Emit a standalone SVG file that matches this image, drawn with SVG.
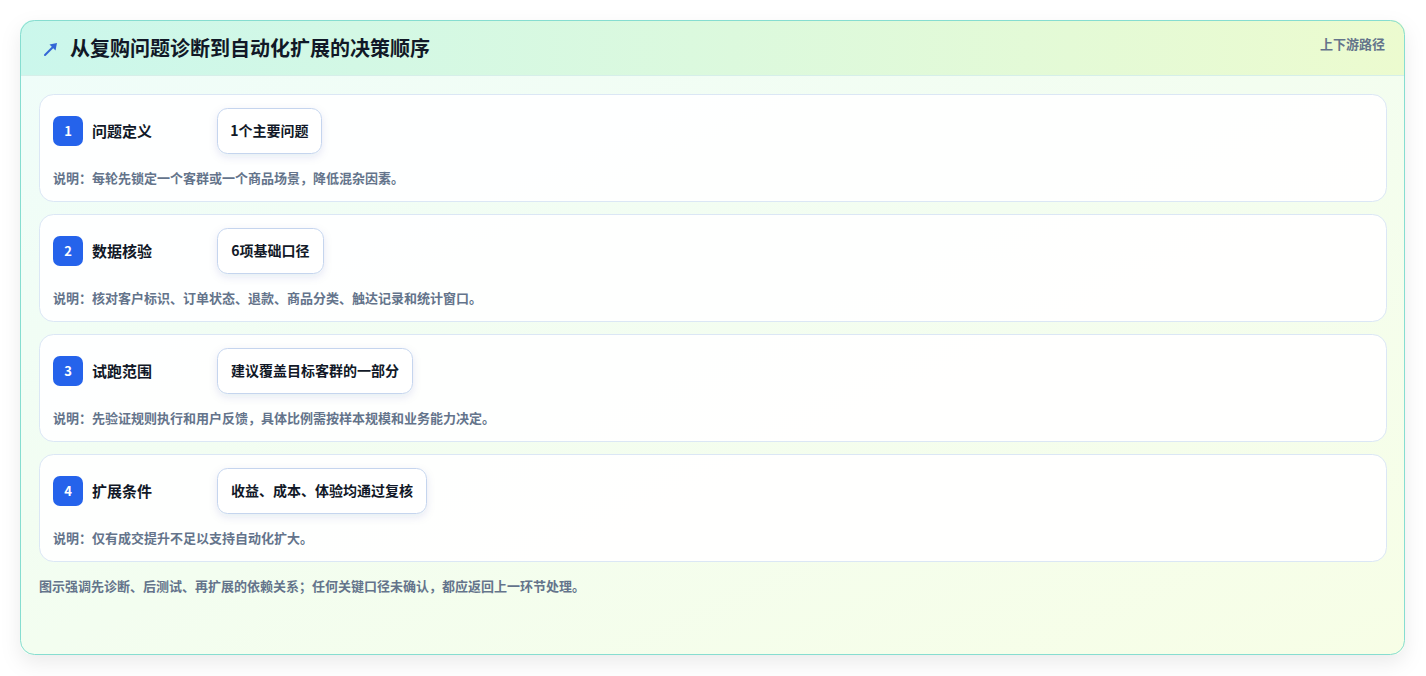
<svg xmlns="http://www.w3.org/2000/svg" width="1426" height="676" viewBox="0 0 1426 676">
<defs>
<linearGradient id="hdr" x1="0" y1="0" x2="1" y2="0">
<stop offset="0" stop-color="#cbf7ec"/>
<stop offset="1" stop-color="#ecfbcf"/>
</linearGradient>
<linearGradient id="body" x1="0" y1="0" x2="1" y2="1">
<stop offset="0" stop-color="#effdfa"/>
<stop offset="1" stop-color="#f7fee6"/>
</linearGradient>
<filter id="sh" x="-5%" y="-5%" width="110%" height="115%">
<feDropShadow dx="0" dy="8" stdDeviation="10" flood-color="#0f172a" flood-opacity="0.08"/>
</filter>
<filter id="psh" x="-20%" y="-30%" width="140%" height="170%">
<feDropShadow dx="0" dy="3" stdDeviation="4" flood-color="#1e3a8a" flood-opacity="0.10"/>
</filter>
<clipPath id="cardclip"><rect x="20" y="20" width="1385" height="635" rx="14"/></clipPath>
</defs>
<style>
text{font-family:"Noto Sans CJK SC","Noto Sans",sans-serif;font-weight:700}
.title{font-size:20px;fill:#111827}
.tag{font-size:13px;fill:#64748b;font-weight:600}
.row{fill:#ffffff;fill-opacity:0.92;stroke:#dbe7f5;stroke-width:1}
.badge{fill:#2563eb}
.num{font-size:13px;fill:#ffffff;text-anchor:middle}
.lbl{font-size:15px;fill:#111827}
.pill{fill:#ffffff;stroke:#c5d5ee;stroke-width:1}
.ptxt{font-size:14px;fill:#111827;text-anchor:middle}
.desc{font-size:13px;fill:#64748b}
</style>
<rect width="1426" height="676" fill="#ffffff"/>
<g id="card">
<rect x="20" y="20" width="1385" height="635" rx="14" fill="url(#body)" filter="url(#sh)"/>
<g clip-path="url(#cardclip)">
<rect x="20" y="20" width="1385" height="55" fill="url(#hdr)"/>
<line x1="20" y1="75.5" x2="1405" y2="75.5" stroke="#d6efe9" stroke-width="1"/>
</g>
<rect x="20.5" y="20.5" width="1384" height="634" rx="14" fill="none" stroke="#86ddd0" stroke-width="1"/>
</g>
<g id="header">
<line x1="45" y1="55" x2="53" y2="47" stroke="#3366d6" stroke-width="2" stroke-linecap="round"/>
<path d="M57 43 L55.5 50.5 L49.5 44.5 Z" fill="#3366d6"/>
<text class="title" x="70" y="56">从复购问题诊断到自动化扩展的决策顺序</text>
<text class="tag" x="1385" y="48.5" text-anchor="end">上下游路径</text>
</g>
<g id="step1">
<rect class="row" x="39.5" y="94.5" width="1347" height="107" rx="14"/>
<rect class="badge" x="53" y="116" width="30" height="30" rx="7"/>
<text class="num" x="68" y="135.5">1</text>
<text class="lbl" x="92" y="136.5">问题定义</text>
<rect class="pill" x="217.5" y="108.5" width="104" height="45" rx="10" filter="url(#psh)"/>
<text class="ptxt" x="269.5" y="136">1个主要问题</text>
<text class="desc" x="53" y="183">说明：每轮先锁定一个客群或一个商品场景，降低混杂因素。</text>
</g>
<g id="step2">
<rect class="row" x="39.5" y="214.5" width="1347" height="107" rx="14"/>
<rect class="badge" x="53" y="236" width="30" height="30" rx="7"/>
<text class="num" x="68" y="255.5">2</text>
<text class="lbl" x="92" y="256.5">数据核验</text>
<rect class="pill" x="217.5" y="228.5" width="106" height="45" rx="10" filter="url(#psh)"/>
<text class="ptxt" x="270.5" y="256">6项基础口径</text>
<text class="desc" x="53" y="303">说明：核对客户标识、订单状态、退款、商品分类、触达记录和统计窗口。</text>
</g>
<g id="step3">
<rect class="row" x="39.5" y="334.5" width="1347" height="107" rx="14"/>
<rect class="badge" x="53" y="356" width="30" height="30" rx="7"/>
<text class="num" x="68" y="375.5">3</text>
<text class="lbl" x="92" y="376.5">试跑范围</text>
<rect class="pill" x="217.5" y="348.5" width="195" height="45" rx="10" filter="url(#psh)"/>
<text class="ptxt" x="315" y="376">建议覆盖目标客群的一部分</text>
<text class="desc" x="53" y="423">说明：先验证规则执行和用户反馈，具体比例需按样本规模和业务能力决定。</text>
</g>
<g id="step4">
<rect class="row" x="39.5" y="454.5" width="1347" height="107" rx="14"/>
<rect class="badge" x="53" y="476" width="30" height="30" rx="7"/>
<text class="num" x="68" y="495.5">4</text>
<text class="lbl" x="92" y="496.5">扩展条件</text>
<rect class="pill" x="217.5" y="468.5" width="209" height="45" rx="10" filter="url(#psh)"/>
<text class="ptxt" x="322" y="496">收益、成本、体验均通过复核</text>
<text class="desc" x="53" y="543">说明：仅有成交提升不足以支持自动化扩大。</text>
</g>
<g id="connectors"></g>
<g id="footer">
<text class="desc" x="39" y="591">图示强调先诊断、后测试、再扩展的依赖关系；任何关键口径未确认，都应返回上一环节处理。</text>
</g>
</svg>
